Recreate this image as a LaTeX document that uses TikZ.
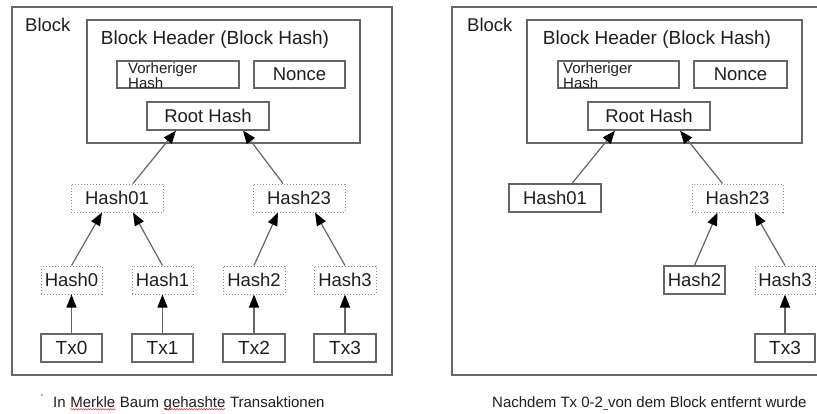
\documentclass[tikz,border=0pt]{standalone}
\usepackage{fontspec}
\setmainfont{Liberation Sans}
\usetikzlibrary{arrows.meta,decorations.pathmorphing}
\definecolor{ln}{HTML}{666666}
\definecolor{dl}{HTML}{8a8a8a}
\definecolor{tx}{HTML}{1e1e1e}
\definecolor{sp}{HTML}{d04040}
\begin{document}
\begin{tikzpicture}[x=1pt,y=-1pt,
  box/.style={draw=ln, line width=1.2pt, minimum height=28pt, inner sep=0pt,
    text=tx, font=\fontsize{18.5}{20}\selectfont},
  dotbox/.style={box, draw=dl, dash pattern=on 1.2pt off 1.8pt, line width=1pt},
  frame/.style={draw=ln, line width=1.2pt, inner sep=0pt},
  lbl/.style={text=tx, inner sep=0pt, font=\fontsize{18.5}{20}\selectfont},
  small/.style={text=tx, inner sep=0pt, anchor=base west, font=\fontsize{15}{15}\selectfont},
  captxt/.style={text=tx, inner sep=0pt, anchor=base west, font=\fontsize{15}{17}\selectfont},
  arr/.style={draw=ln, line width=1.2pt, -{Triangle[length=13pt,width=10pt,color=black]}},
  wave/.style={draw=sp, line width=0.5pt, decorate, decoration={snake, amplitude=0.7pt, segment length=2.5pt}}
]
\useasboundingbox (0,0) rectangle (817,413);
\fill[white] (0,0) rectangle (817,413);

% ---------------- left block ----------------
\node[frame, minimum width=380pt, minimum height=368pt] (outerL) at (202,191) {};
\node[lbl, anchor=base west] (blockL) at (25,31) {Block};
\node[frame, minimum width=273pt, minimum height=123pt] (headerL) at (223.5,81.5) {};
\node[lbl, font=\fontsize{19}{21}\selectfont] (htL) at (215,40) {Block Header (Block Hash)};
\node[box, minimum width=122pt, minimum height=27pt] (vhL) at (178,74.5) {};
\node[small] (vhtL1) at (128,73) {Vorheriger};
\node[small] (vhtL2) at (128,88.5) {Hash};
\node[box, minimum width=91pt, minimum height=27pt] (nonceL) at (299.5,74.5) {Nonce};
\node[box, minimum width=122pt] (rootL) at (208,116) {Root Hash};

\node[dotbox, minimum width=92pt] (h01L) at (117,198) {Hash01};
\node[dotbox, minimum width=92pt] (h23L) at (299,198) {Hash23};

\node[dotbox, minimum width=61pt] (h0L) at (71.5,280) {Hash0};
\node[dotbox, minimum width=61pt] (h1L) at (162.5,280) {Hash1};
\node[dotbox, minimum width=62pt] (h2L) at (254,280) {Hash2};
\node[dotbox, minimum width=62pt] (h3L) at (345,280) {Hash3};

\node[box, minimum width=61pt, font=\fontsize{19}{21}\selectfont] (tx0L) at (71.5,348) {Tx0};
\node[box, minimum width=61pt, font=\fontsize{19}{21}\selectfont] (tx1L) at (162.5,348) {Tx1};
\node[box, minimum width=62pt, font=\fontsize{19}{21}\selectfont] (tx2L) at (254,348) {Tx2};
\node[box, minimum width=62pt, font=\fontsize{19}{21}\selectfont] (tx3L) at (345,348) {Tx3};

\draw[arr] ([xshift=16pt]h01L.north) -- ([xshift=-32pt]rootL.south);
\draw[arr] ([xshift=-16pt]h23L.north) -- ([xshift=35pt]rootL.south);
\draw[arr] (h0L.north) -- ([xshift=-15pt]h01L.south);
\draw[arr] (h1L.north) -- ([xshift=16pt]h01L.south);
\draw[arr] (h2L.north) -- ([xshift=-21pt]h23L.south);
\draw[arr] (h3L.north) -- ([xshift=16pt]h23L.south);
\draw[arr] (tx0L.north) -- (h0L.south);
\draw[arr] (tx1L.north) -- (h1L.south);
\draw[arr] (tx2L.north) -- (h2L.south);
\draw[arr] (tx3L.north) -- (h3L.south);

% caption left
\fill[ln] (42,395) circle (0.8pt);
\node[captxt] (c1) at (53,407) {In\kern4.2pt};
\node[captxt] (c2) at (c1.base east) {Merkle};
\node[captxt] (c3) at (c2.base east) {\kern4.2pt Baum\kern4.2pt};
\node[captxt] (c4) at (c3.base east) {gehashte};
\node[captxt] (c5) at (c4.base east) {\kern4.2pt Transaktionen};
\draw[wave] ([yshift=-2.2pt]c2.base west) -- ([yshift=-2.2pt]c2.base east);
\draw[wave] ([yshift=-2.2pt]c4.base west) -- ([yshift=-2.2pt]c4.base east);

% ---------------- right block ----------------
\node[frame, minimum width=378pt, minimum height=368pt] (outerR) at (641,191) {};
\node[lbl, anchor=base west] (blockR) at (467,31) {Block};
\node[frame, minimum width=275pt, minimum height=123pt] (headerR) at (664.5,81.5) {};
\node[lbl, font=\fontsize{19}{21}\selectfont] (htR) at (657,40) {Block Header (Block Hash)};
\node[box, minimum width=121pt, minimum height=27pt] (vhR) at (618.5,74.5) {};
\node[small] (vhtR1) at (563,73) {Vorheriger};
\node[small] (vhtR2) at (563,88.5) {Hash};
\node[box, minimum width=93pt, minimum height=27pt] (nonceR) at (740.5,74.5) {Nonce};
\node[box, minimum width=122pt] (rootR) at (649,116) {Root Hash};

\node[box, minimum width=92pt] (h01R) at (555,198) {Hash01};
\node[dotbox, minimum width=91pt] (h23R) at (737.5,198) {Hash23};
\node[box, minimum width=61pt] (h2R) at (694.5,280) {Hash2};
\node[dotbox, minimum width=60pt] (h3R) at (785,280) {Hash3};
\node[box, minimum width=60pt, font=\fontsize{19}{21}\selectfont] (tx3R) at (785,348) {Tx3};

\draw[arr] ([xshift=17pt]h01R.north) -- ([xshift=-34pt]rootR.south);
\draw[arr] ([xshift=-15pt]h23R.north) -- ([xshift=31pt]rootR.south);
\draw[arr] (h2R.north) -- ([xshift=-20pt]h23R.south);
\draw[arr] (h3R.north) -- ([xshift=17pt]h23R.south);
\draw[arr] (tx3R.north) -- (h3R.south);

% caption right
\node[captxt] (d1) at (492,407) {Nachdem Tx 0-2};
\node[captxt] (d2) at (d1.base east) {\kern4.2pt};
\node[captxt] (d3) at (d2.base east) {von dem Block entfernt wurde};
\draw[ln, line width=0.6pt] ([yshift=-2pt]d2.base west) -- ([yshift=-2pt]d2.base east);
\end{tikzpicture}
\end{document}
